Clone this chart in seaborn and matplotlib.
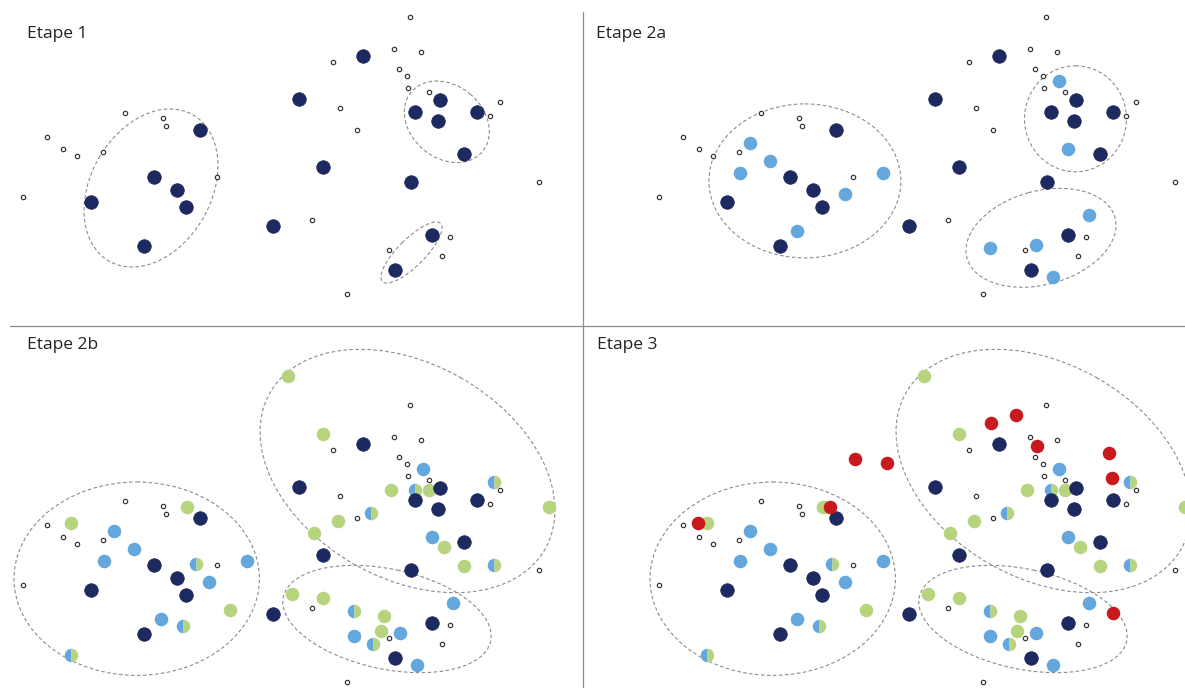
import matplotlib
matplotlib.use("Agg")
import numpy as np
import pandas as pd
import seaborn as sns
import matplotlib.pyplot as plt
from matplotlib.patches import Ellipse
from matplotlib.markers import MarkerStyle
from matplotlib.lines import Line2D

# ---------------- data (base layout coordinates, pixel-like units) ----------------
titles = ["Etape 1", "Etape 2a", "Etape 2b", "Etape 3"]

small_x = [124.7, 163.3, 166.0, 47.0, 63.3, 76.7, 103.0, 216.7, 22.7, 410.3, 394.3, 421.3,
           333.3, 399.0, 406.7, 408.0, 429.0, 499.7, 489.7, 340.3, 356.7, 539.3, 312.0,
           450.0, 389.0, 442.0, 347.3]
small_y = [112.7, 117.7, 125.7, 137.3, 148.7, 156.3, 152.3, 176.7, 197.0, 17.0, 48.7, 51.7,
           62.0, 69.3, 76.0, 88.0, 91.7, 102.0, 116.3, 108.3, 130.0, 182.3, 220.0,
           237.3, 250.3, 255.7, 294.3]

navy_x = [200.3, 154.0, 176.7, 185.7, 90.7, 144.0, 272.7, 362.7, 298.7, 440.0, 415.3, 438.3,
          477.3, 463.7, 323.3, 411.3, 432.3, 395.0]
navy_y = [129.7, 177.0, 190.3, 207.3, 201.7, 245.7, 225.7, 56.3, 98.7, 100.0, 112.0, 121.0,
          112.3, 153.7, 167.3, 181.7, 235.0, 270.3]

blue_x = [114.3, 133.7, 104.3, 209.3, 161.3, 247.3, 423.0, 431.7, 452.7, 399.7, 354.0, 417.3]
blue_y = [143.3, 161.3, 173.0, 193.7, 231.0, 172.7, 80.7, 149.0, 214.7, 244.7, 247.7, 277.3]

green_x = [71.0, 186.7, 230.0, 288.0, 292.0, 323.3, 391.0, 429.0, 338.3, 314.3, 444.0, 464.0,
           548.7, 323.0, 384.3, 381.0]
green_y = [135.3, 119.0, 222.0, -11.7, 206.3, 46.3, 102.0, 102.0, 133.3, 144.7, 158.7, 178.0,
           118.7, 210.0, 228.3, 243.3]

half_x = [195.7, 183.3, 71.0, 415.0, 494.3, 371.0, 494.3, 354.3, 373.3]
half_y = [176.0, 238.0, 267.3, 101.7, 94.0, 124.7, 177.3, 223.3, 256.0]

red_x = [62.0, 193.7, 218.7, 251.0, 355.0, 379.7, 400.7, 473.0, 476.3, 477.0]
red_y = [135.3, 119.0, 71.3, 74.7, 34.7, 27.0, 58.0, 64.7, 90.3, 225.0]

# cluster ellipses per stage: centre x, centre y, width, height, angle
ell_1 = dict(cx=[151.0, 446.8, 411.5], cy=[188.0, 121.8, 252.5],
             w=[168.6, 92.8, 82.2], h=[120.4, 72.6, 27.0], ang=[-60.2, 40.0, -45.0])
ell_2a = dict(cx=[168.9, 439.5, 405.0], cy=[180.9, 118.8, 237.8],
              w=[192.0, 102.0, 153.4], h=[154.0, 106.0, 93.6], ang=[0.0, 0.0, -15.3])
ell_2b = dict(cx=[136.7, 407.5, 387.0], cy=[190.7, 83.0, 231.0],
              w=[245.4, 316.4, 212.0], h=[193.4, 214.8, 100.0], ang=[0.0, 29.5, 12.0])
stage_ellipses = [ell_1, ell_2a, ell_2b, ell_2b]

# which layers are shown at each stage
stage_layers = [["small", "navy"],
                ["small", "blue", "navy"],
                ["small", "blue", "green", "half", "navy"],
                ["small", "blue", "green", "half", "navy", "red"]]

# ---------------- style ----------------
NAVY = "#1d2a62"
BLUE = "#63a7dd"
GREEN = "#b6d47d"
RED = "#c8191e"
GRID = "#8c8c8c"

sns.set_theme(style="white")
plt.rcParams["font.family"] = ["Open Sans", "DejaVu Sans"]

W, H = 1185, 688
fig = plt.figure(figsize=(W / 100, H / 100), dpi=100)
fig.patch.set_facecolor("white")

# panel rectangles in pixels (left, top, width, height) and layout offsets
panels = [(0, 0, 583, 326, 0, 0),
          (583, 0, 602, 326, 636, 0),
          (0, 326, 583, 362, 0, 388),
          (583, 326, 602, 362, 636, 388)]
title_pos = [(27, 38), (596, 38), (27, 349), (597, 349)]

frames = {
    "small": pd.DataFrame({"x": small_x, "y": small_y}),
    "navy": pd.DataFrame({"x": navy_x, "y": navy_y}),
    "blue": pd.DataFrame({"x": blue_x, "y": blue_y}),
    "green": pd.DataFrame({"x": green_x, "y": green_y}),
    "half": pd.DataFrame({"x": half_x, "y": half_y}),
    "red": pd.DataFrame({"x": red_x, "y": red_y}),
}

BIG = 95
for i, (pl, pt, pw, ph, dx, dy) in enumerate(panels):
    ax = fig.add_axes([pl / W, 1 - (pt + ph) / H, pw / W, ph / H])
    ax.set_facecolor("white")
    layers = stage_layers[i]
    for layer in layers:
        d = frames[layer]
        if layer == "small":
            sns.scatterplot(data=d, x="x", y="y", ax=ax, s=10, color="white",
                            edgecolor="#333333", linewidth=0.85, zorder=2, legend=False)
        elif layer == "navy":
            sns.scatterplot(data=d, x="x", y="y", ax=ax, s=BIG, color=NAVY,
                            edgecolor="#16204c", linewidth=0.5, zorder=5, legend=False)
        elif layer == "blue":
            sns.scatterplot(data=d, x="x", y="y", ax=ax, s=BIG, color=BLUE,
                            linewidth=0, zorder=3, legend=False)
        elif layer == "green":
            sns.scatterplot(data=d, x="x", y="y", ax=ax, s=BIG, color=GREEN,
                            linewidth=0, zorder=3, legend=False)
        elif layer == "half":
            sns.scatterplot(data=d, x="x", y="y", ax=ax, s=BIG, color=BLUE,
                            marker=MarkerStyle("o", fillstyle="left"),
                            linewidth=0, zorder=4, legend=False)
            sns.scatterplot(data=d, x="x", y="y", ax=ax, s=BIG, color=GREEN,
                            marker=MarkerStyle("o", fillstyle="right"),
                            linewidth=0, zorder=4, legend=False)
        elif layer == "red":
            sns.scatterplot(data=d, x="x", y="y", ax=ax, s=BIG, color=RED,
                            linewidth=0, zorder=6, legend=False)
    e = stage_ellipses[i]
    for cx, cy, w, h, a in zip(e["cx"], e["cy"], e["w"], e["h"], e["ang"]):
        ax.add_patch(Ellipse((cx, cy), w, h, angle=a, fill=False, edgecolor=GRID,
                             linewidth=0.8, linestyle=(0, (3.2, 2.2)), zorder=1))
    ax.set_xlim(pl - dx, pl + pw - dx)
    ax.set_ylim(pt + ph - dy, pt - dy)
    ax.set_axis_off()
    tx, ty = title_pos[i]
    fig.text(tx / W, 1 - ty / H, titles[i], fontsize=12.5, color="#222222",
             ha="left", va="baseline")

# separators
fig.add_artist(Line2D([10 / W, 1.0], [1 - 326 / H, 1 - 326 / H], color=GRID, linewidth=0.9,
                      transform=fig.transFigure))
fig.add_artist(Line2D([582.5 / W, 582.5 / W], [0, 1 - 12 / H], color=GRID, linewidth=0.9,
                      transform=fig.transFigure))

fig.savefig("out.png", dpi=100, facecolor="white")
